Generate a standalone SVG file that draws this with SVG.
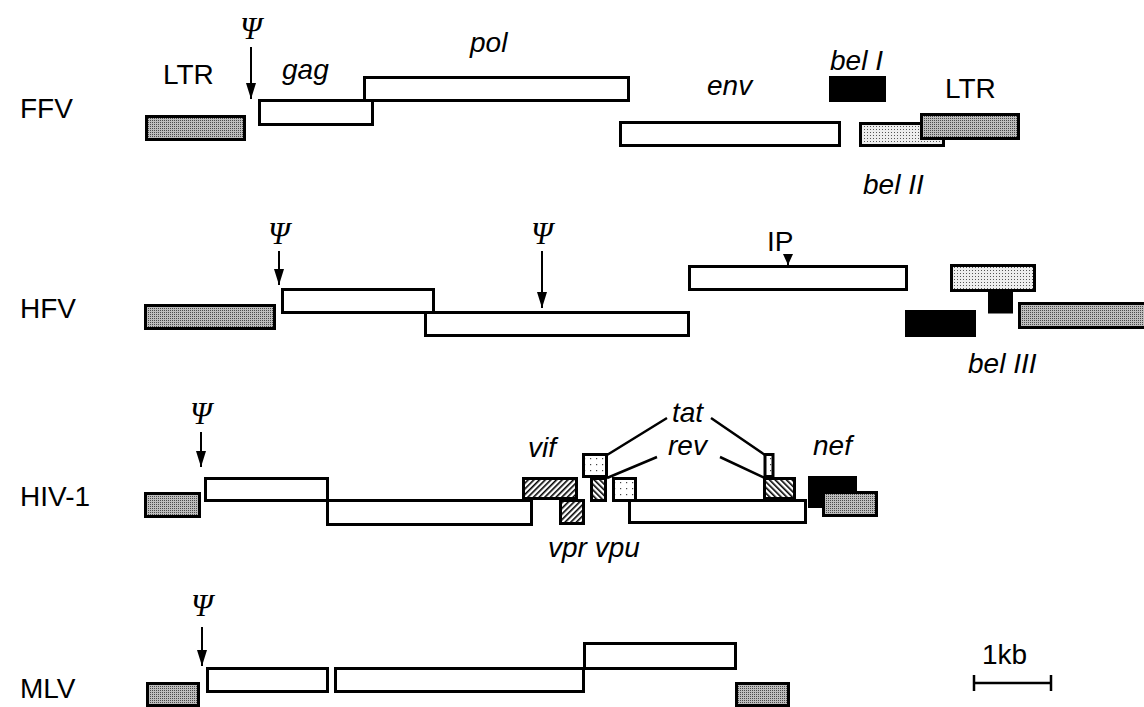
<svg xmlns="http://www.w3.org/2000/svg" width="1144" height="707" viewBox="0 0 1144 707">
<style>
.lbl{font-family:"Liberation Sans",Arial,sans-serif;font-size:28px;fill:#000}
.it{font-family:"Liberation Sans",Arial,sans-serif;font-size:28px;font-style:italic;fill:#000}
.psi{font-family:"Liberation Serif","DejaVu Serif",serif;font-size:31px;font-style:italic;fill:#000}
.box{fill:#fff;stroke:#000;stroke-width:3}
.ltr{fill:url(#dark);stroke:#000;stroke-width:3}
.lt{fill:url(#light);stroke:#000;stroke-width:3}
.sp{fill:url(#sparse);stroke:#000;stroke-width:3}
.hf{fill:url(#hatchF);stroke:#000;stroke-width:3}
.hb{fill:url(#hatchB);stroke:#000;stroke-width:3}
.blk{fill:#000;stroke:#000;stroke-width:3}
.ln{stroke:#000;stroke-width:2.5;fill:none}
.arr{stroke:#000;stroke-width:2;fill:none;marker-end:url(#ah)}
</style>
<defs>
<pattern id="dark" width="2" height="2" patternUnits="userSpaceOnUse"><rect width="2" height="2" fill="#bdbdbd"/><rect width="1" height="1" fill="#4a4a4a"/></pattern>
<pattern id="light" width="3" height="3" patternUnits="userSpaceOnUse"><rect width="3" height="3" fill="#eeeeee"/><rect width="1" height="1" fill="#555"/></pattern>
<pattern id="sparse" width="6" height="6" patternUnits="userSpaceOnUse"><rect width="6" height="6" fill="#fff"/><rect x="2" y="2" width="1.2" height="1.2" fill="#444"/></pattern>
<pattern id="hatchF" width="4" height="4" patternUnits="userSpaceOnUse" patternTransform="rotate(45)"><rect width="4" height="4" fill="#fff"/><rect width="1.6" height="4" fill="#000"/></pattern>
<pattern id="hatchB" width="4" height="4" patternUnits="userSpaceOnUse" patternTransform="rotate(-45)"><rect width="4" height="4" fill="#fff"/><rect width="1.6" height="4" fill="#000"/></pattern>
<marker id="ah" markerUnits="userSpaceOnUse" markerWidth="16" markerHeight="10" refX="16" refY="5" orient="auto" viewBox="0 0 16 10"><path d="M0,0 L16,5 L0,10 Z" fill="#000"/></marker>
<marker id="ahs" markerUnits="userSpaceOnUse" markerWidth="11" markerHeight="10" refX="11" refY="5" orient="auto" viewBox="0 0 11 10"><path d="M0,0 L11,5 L0,10 Z" fill="#000"/></marker>
</defs>

<!-- row labels -->
<g id="labels">
<text class="lbl" x="20" y="118">FFV</text>
<text class="lbl" x="20" y="318">HFV</text>
<text class="lbl" x="20" y="506">HIV-1</text>
<text class="lbl" x="20" y="698">MLV</text>
</g>

<!-- FFV -->
<g id="ffv-ltr5"><rect class="ltr" x="146.5" y="116.5" width="98" height="23"/><text class="lbl" x="163" y="84">LTR</text></g>
<g id="ffv-gag"><rect class="box" x="259.5" y="100.5" width="113" height="24"/><text class="it" x="282" y="79">gag</text></g>
<g id="ffv-pol"><rect class="box" x="364.5" y="77.5" width="264" height="23"/><text class="it" x="470" y="52">pol</text></g>
<g id="ffv-env"><rect class="box" x="620.5" y="122.5" width="219" height="23"/><text class="it" x="707" y="95">env</text></g>
<g id="ffv-bel1"><rect class="blk" x="830.5" y="77.5" width="54" height="23"/><text class="it" x="830" y="70">bel I</text></g>
<g id="ffv-bel2"><rect class="lt" x="860.5" y="123.5" width="83" height="22"/><text class="it" x="863" y="194">bel II</text></g>
<g id="ffv-ltr3"><rect class="ltr" x="921.5" y="114.5" width="97" height="24"/><text class="lbl" x="945" y="98">LTR</text></g>
<g id="ffv-psi"><text class="psi" x="240" y="39">Ψ</text></g>

<!-- HFV -->
<g id="hfv-ltr5"><rect class="ltr" x="145.5" y="305.5" width="129" height="23"/></g>
<g id="hfv-gag"><rect class="box" x="282.5" y="289.5" width="151" height="23"/></g>
<g id="hfv-pol"><rect class="box" x="425.5" y="312.5" width="263" height="23"/></g>
<g id="hfv-env"><rect class="box" x="689.5" y="266.5" width="217" height="23"/><text class="lbl" x="767" y="251">IP</text></g>
<g id="hfv-bel-a"><rect class="blk" x="906.5" y="311.5" width="68" height="24"/></g>
<g id="hfv-bel-b"><rect class="lt" x="951.5" y="265.5" width="83" height="25"/></g>
<g id="hfv-bel-c"><rect class="blk" x="989.5" y="292" width="22" height="20"/><text class="it" x="968" y="373">bel III</text></g>
<g id="hfv-ltr3"><rect class="ltr" x="1019.5" y="303.5" width="130" height="24"/></g>
<g id="hfv-psi"><text class="psi" x="268" y="244">Ψ</text><text class="psi" x="531" y="244">Ψ</text></g>

<!-- HIV-1 -->
<g id="hiv-ltr5"><rect class="ltr" x="145.5" y="493.5" width="54" height="23"/></g>
<g id="hiv-gag"><rect class="box" x="205.5" y="478.5" width="122" height="22"/></g>
<g id="hiv-pol"><rect class="box" x="327.5" y="500.5" width="204" height="24"/></g>
<g id="hiv-vif"><rect class="hf" x="523.5" y="478.5" width="53" height="20"/><text class="it" x="528" y="457">vif</text></g>
<g id="hiv-vpr"><rect class="hf" x="560.5" y="500.5" width="23" height="23"/></g>
<g id="hiv-tat1"><rect class="sp" x="583.5" y="454.5" width="23" height="22"/><text class="it" x="672" y="422">tat</text></g>
<g id="hiv-rev1"><rect class="hb" x="591.5" y="478.5" width="14" height="22"/><text class="it" x="668" y="455">rev</text></g>
<g id="hiv-vpu"><rect class="sp" x="613.5" y="478.5" width="22" height="22"/><text class="it" x="548" y="557">vpr vpu</text></g>
<g id="hiv-env"><rect class="box" x="629.5" y="500.5" width="176" height="22"/></g>
<g id="hiv-tat2"><rect class="sp" x="765" y="454.5" width="8" height="22"/></g>
<g id="hiv-rev2"><rect class="hb" x="764.5" y="478.5" width="30" height="20"/></g>
<g id="hiv-nef"><rect class="blk" x="809.5" y="477.5" width="46" height="29"/><text class="it" x="813" y="455">nef</text></g>
<g id="hiv-ltr3"><rect class="ltr" x="823.5" y="492.5" width="53" height="23"/></g>
<g id="hiv-psi"><text class="psi" x="190" y="424">Ψ</text></g>

<!-- MLV -->
<g id="mlv-ltr5"><rect class="ltr" x="147.5" y="683.5" width="51" height="22"/></g>
<g id="mlv-gag"><rect class="box" x="207.5" y="668.5" width="120" height="23"/></g>
<g id="mlv-pol"><rect class="box" x="335.5" y="668.5" width="248" height="23"/></g>
<g id="mlv-env"><rect class="box" x="584.5" y="643.5" width="151" height="25"/></g>
<g id="mlv-ltr3"><rect class="ltr" x="736.5" y="683.5" width="52" height="22"/></g>
<g id="mlv-psi"><text class="psi" x="191" y="616">Ψ</text></g>

<!-- scale bar -->
<g id="scale">
<text class="lbl" x="982" y="664">1kb</text>
<path class="ln" d="M974,683 H1051 M974,675 V691 M1051,675 V691"/>
</g>

<!-- connectors -->
<g id="connectors">
<line class="arr" x1="251" y1="47" x2="251" y2="99"/>
<line class="arr" x1="279" y1="251" x2="279" y2="285"/>
<line class="arr" x1="542" y1="251" x2="542" y2="308"/>
<line x1="788" y1="254" x2="788" y2="265" stroke="#000" stroke-width="2" marker-end="url(#ahs)"/>
<line class="arr" x1="201" y1="432" x2="201" y2="467"/>
<line class="arr" x1="202" y1="627" x2="202" y2="666"/>
<path class="ln" d="M607,455 L667,418 M711,418 L765,455 M607,478 L657,457 M720,457 L765,478"/>
</g>
</svg>
